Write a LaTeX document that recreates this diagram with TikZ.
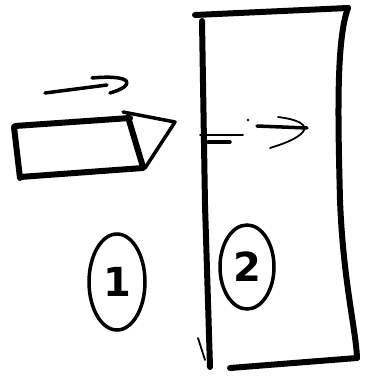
\documentclass[tikz,border=0pt]{standalone}
\usepackage{fontspec}
\setmainfont{DejaVu Sans}
\usetikzlibrary{shapes.geometric}
\tikzset{
  heavy/.style={line width=6pt,line cap=round,line join=round},
  pen/.style={line width=3.5pt,line cap=round,line join=round},
  fine/.style={line width=1.8pt,line cap=round},
  numcirc/.style={ellipse,draw,line width=3.5pt,inner sep=0pt,font=\bfseries\fontsize{40}{40}\selectfont}
}
\begin{document}
\begin{tikzpicture}[x=1pt,y=-1pt]
\useasboundingbox (0,0) rectangle (365,382);
% upper arrow
\draw[pen] (45,93) -- (107,85);
\draw[pen] (92,78) .. controls (135,74) and (135,86) .. (110,93);
% small block
\draw[heavy] (15,126) -- (130,118);
\draw[heavy] (14,127) -- (20,178);
\draw[heavy] (20,177) -- (143,168);
\draw[heavy] (128,117) -- (143,167);
% tip
\draw[pen] (123,112) -- (175,122) -- (145,168);
% big block
\draw[heavy] (195,15) -- (348,8);
\draw[heavy] (202,21) -- (205,205) -- (210,367);
\draw[fine] (198,338) -- (205,360);
\draw[heavy] (348,8) .. controls (336,40) and (338,120) .. (340,200) .. controls (343,280) and (356,330) .. (357,358);
\draw[heavy] (230,368) -- (357,358);
% inner dashed arrow
\draw[fine] (200,135) -- (243,135);
\draw[pen] (208,142) -- (230,142);
\fill (248,120) circle (1.3pt);
\draw[pen] (257,126) -- (307,128);
\draw[fine] (278,117) .. controls (318,122) and (310,136) .. (270,148);
% numbered circles
\node[numcirc,minimum width=56pt,minimum height=96pt] (one) at (117,282) {1};
\node[numcirc,minimum width=54pt,minimum height=84pt] (two) at (247,267) {2};
\end{tikzpicture}
\end{document}
